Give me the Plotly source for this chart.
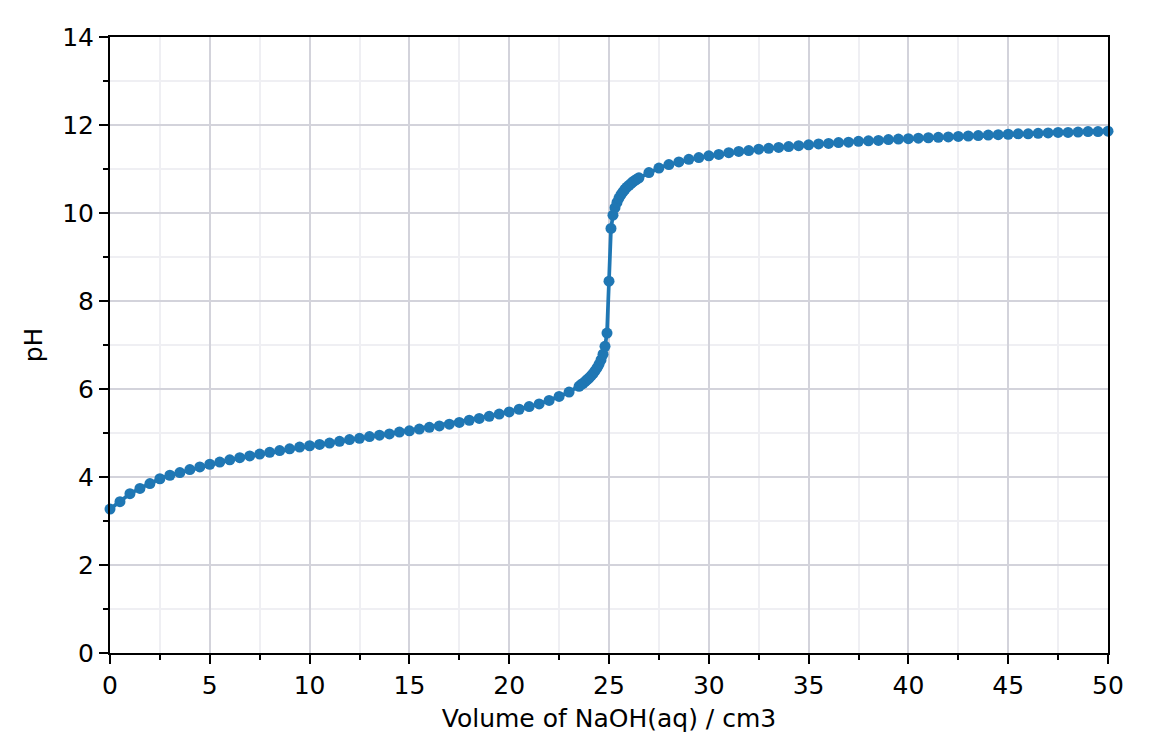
import plotly.graph_objects as go

# titration data: 0.5 cm3 steps, 0.1 cm3 near the end point
vol_before = [0, 0.5, 1, 1.5, 2, 2.5, 3, 3.5, 4, 4.5, 5, 5.5, 6, 6.5, 7, 7.5, 8, 8.5, 9, 9.5,
              10, 10.5, 11, 11.5, 12, 12.5, 13, 13.5, 14, 14.5, 15, 15.5, 16, 16.5, 17, 17.5,
              18, 18.5, 19, 19.5, 20, 20.5, 21, 21.5, 22, 22.5, 23]
ph_before = [3.27, 3.44, 3.62, 3.74, 3.85, 3.96, 4.04, 4.10, 4.17, 4.23, 4.29, 4.34, 4.39, 4.44,
             4.48, 4.52, 4.56, 4.60, 4.64, 4.68, 4.71, 4.74, 4.77, 4.81, 4.85, 4.88, 4.92, 4.95,
             4.98, 5.02, 5.05, 5.09, 5.13, 5.16, 5.20, 5.24, 5.29, 5.33, 5.38, 5.43, 5.48, 5.54,
             5.60, 5.66, 5.74, 5.83, 5.93]

vol_endpoint = [23.5, 23.6, 23.7, 23.8, 23.9, 24.0, 24.1, 24.2, 24.3, 24.4, 24.5, 24.6, 24.7,
                24.8, 24.9, 25.0, 25.1, 25.2, 25.3, 25.4, 25.5, 25.6, 25.7, 25.8, 25.9, 26.0,
                26.1, 26.2, 26.3, 26.4, 26.5]
ph_endpoint = [6.06, 6.10, 6.13, 6.17, 6.21, 6.25, 6.30, 6.35, 6.41, 6.48, 6.56, 6.66, 6.79,
               6.97, 7.27, 8.45, 9.65, 9.95, 10.12, 10.24, 10.34, 10.42, 10.48, 10.54, 10.59,
               10.63, 10.67, 10.71, 10.74, 10.77, 10.80]

vol_after = [27, 27.5, 28, 28.5, 29, 29.5, 30, 30.5, 31, 31.5, 32, 32.5, 33, 33.5, 34, 34.5,
             35, 35.5, 36, 36.5, 37, 37.5, 38, 38.5, 39, 39.5, 40, 40.5, 41, 41.5, 42, 42.5,
             43, 43.5, 44, 44.5, 45, 45.5, 46, 46.5, 47, 47.5, 48, 48.5, 49, 49.5, 50]
ph_after = [10.92, 11.02, 11.10, 11.16, 11.22, 11.26, 11.30, 11.33, 11.37, 11.40, 11.42, 11.45,
            11.47, 11.49, 11.51, 11.53, 11.55, 11.57, 11.58, 11.60, 11.61, 11.63, 11.64, 11.65,
            11.67, 11.68, 11.69, 11.70, 11.71, 11.72, 11.73, 11.74, 11.75, 11.76, 11.77, 11.78,
            11.79, 11.80, 11.80, 11.81, 11.82, 11.83, 11.83, 11.84, 11.85, 11.85, 11.86]

volume = vol_before + vol_endpoint + vol_after
ph = ph_before + ph_endpoint + ph_after

x_ticks = [0, 5, 10, 15, 20, 25, 30, 35, 40, 45, 50]
y_ticks = [0, 2, 4, 6, 8, 10, 12, 14]

fig = go.Figure()
fig.add_trace(go.Scatter(x=volume, y=ph, mode="lines+markers",
                         line=dict(color="#1f77b4", width=3.7),
                         marker=dict(color="#1f77b4", size=11),
                         cliponaxis=False, showlegend=False))

axis_common = dict(
    showline=True, linecolor="black", linewidth=2, mirror=True,
    ticks="outside", ticklen=9, tickwidth=2, tickcolor="black",
    showgrid=True, gridcolor="#d3d3db", gridwidth=1.8,
    zeroline=False, tickfont=dict(size=25, color="black"),
)
fig.update_xaxes(range=[0, 50], tickvals=x_ticks,
                 minor=dict(dtick=2.5, ticks="outside", ticklen=5, tickwidth=1.6,
                            tickcolor="black", showgrid=True, gridcolor="#efeff3", gridwidth=1.5),
                 title=dict(text="Volume of NaOH(aq) / cm3", font=dict(size=25, color="black"),
                            standoff=10),
                 **axis_common)
fig.update_yaxes(range=[0, 14], tickvals=y_ticks,
                 minor=dict(dtick=1, ticks="outside", ticklen=5, tickwidth=1.6,
                            tickcolor="black", showgrid=True, gridcolor="#efeff3", gridwidth=1.5),
                 title=dict(text="pH", font=dict(size=25, color="black"), standoff=12),
                 **axis_common)

# the page adds an 8px body margin, so the margins are shifted to compensate
fig.update_layout(width=1152, height=756,
                  margin=dict(l=102, r=52, t=29, b=111),
                  plot_bgcolor="white", paper_bgcolor="white",
                  font=dict(family="DejaVu Sans", color="black"))

fig.write_html("out.html")
